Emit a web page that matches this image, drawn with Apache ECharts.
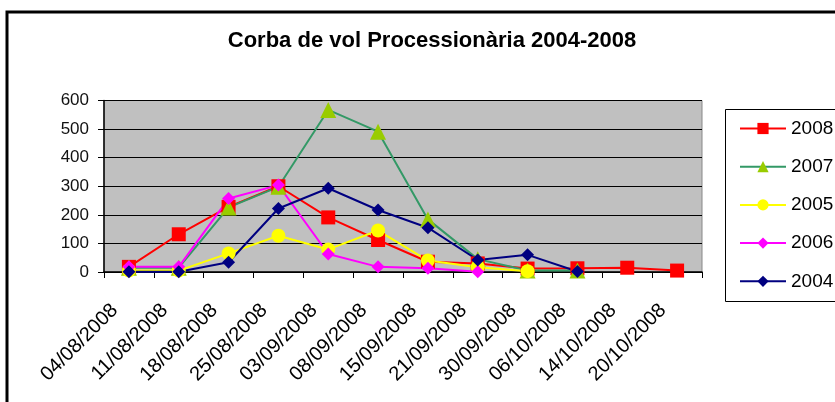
<!DOCTYPE html>
<html>
<head>
<meta charset="utf-8">
<script src="https://cdn.jsdelivr.net/npm/echarts@6/dist/echarts.min.js"></script>
<style>
html,body{margin:0;padding:0;background:#fff;}
#c{width:835px;height:402px;}
</style>
</head>
<body>
<div id="c"></div>
<script>
var categories = ['04/08/2008','11/08/2008','18/08/2008','25/08/2008','03/09/2008','08/09/2008','15/09/2008','21/09/2008','30/09/2008','06/10/2008','14/10/2008','20/10/2008'];
var yTicks = [0, 100, 200, 300, 400, 500, 600];
var s2008 = [18, 132, 228, 300, 191, 112, 36, 30, 12, 13, 15, 5];
var s2007 = [15, 15, 226, 298, 567, 491, 184, 45, 5, 5, null, null];
var s2005 = [5, 5, 65, 127, 79, 145, 40, 17, 3, null, null, null];
var s2006 = [18, 18, 257, 304, 63, 18, 13, 1, null, null, null, null];
var s2004 = [1, 1, 34, 222, 293, 217, 155, 42, 60, 2, null, null];

var FONT = 'Liberation Sans, Arial, sans-serif';
var chart = echarts.init(document.getElementById('c'), null, {renderer:'canvas'});

function ser(name, data, lineColor, markColor, symbol, size){
  return {
    name: name, type: 'line', data: data,
    symbol: symbol, symbolSize: size, showAllSymbol: true,
    connectNulls: false,
    lineStyle: {color: lineColor, width: 2},
    itemStyle: {color: markColor, borderWidth: 0},
    emphasis: {disabled: true},
    animation: false
  };
}

chart.setOption({
  animation: false,
  backgroundColor: '#ffffff',
  title: {
    text: 'Corba de vol Processionària 2004-2008',
    left: 427, top: 25, textAlign: 'center',
    textStyle: {fontFamily: FONT, fontSize: 22, fontWeight: 'bold', color: '#000'}
  },
  graphic: [
    {type: 'rect', shape: {x: 7, y: 12, width: 840, height: 400},
     style: {fill: 'none', stroke: '#000', lineWidth: 3}, z: 0, silent: true},
    {type: 'rect', shape: {x: 725.5, y: 109.5, width: 120, height: 192},
     style: {fill: '#fff', stroke: '#000', lineWidth: 1}, z: 0, silent: true}
  ],
  legend: {
    orient: 'vertical', left: 739, top: 119, padding: 0,
    itemWidth: 46, itemHeight: 14, itemGap: 19.2,
    textStyle: {fontFamily: FONT, fontSize: 19, color: '#000'},
    data: ['2008','2007','2005','2006','2004']
  },
  grid: {left: 104, right: 133, top: 100.5, bottom: 130, show: true,
         backgroundColor: '#c0c0c0', borderColor: '#888', borderWidth: 1},
  xAxis: {
    type: 'category', data: categories, boundaryGap: true,
    axisLine: {lineStyle: {color: '#000', width: 1.5}},
    axisTick: {show: true, interval: 0, length: 6, lineStyle: {color: '#000'}},
    axisLabel: {interval: 0, rotate: 45, fontFamily: FONT, fontSize: 20, color: '#000', margin: 21,
                padding: [0, 20, 0, 0]},
    splitLine: {show: false}
  },
  yAxis: {
    type: 'value', min: yTicks[0], max: yTicks[yTicks.length-1], interval: 100,
    axisLine: {show: true, lineStyle: {color: '#000', width: 1.5}},
    axisTick: {show: true, length: 6, lineStyle: {color: '#000'}},
    axisLabel: {fontFamily: FONT, fontSize: 17, color: '#111', margin: 15},
    splitLine: {show: true, lineStyle: {color: '#000', width: 1}}
  },
  series: [
    ser('2008', s2008, '#ff0000', '#ff0000', 'rect', 14),
    ser('2007', s2007, '#339966', '#99cc00', 'triangle', 16),
    ser('2005', s2005, '#ffff00', '#ffff00', 'circle', 14),
    ser('2006', s2006, '#ff00ff', '#ff00ff', 'diamond', 13),
    ser('2004', s2004, '#000080', '#000080', 'diamond', 13)
  ]
});
</script>
</body>
</html>
